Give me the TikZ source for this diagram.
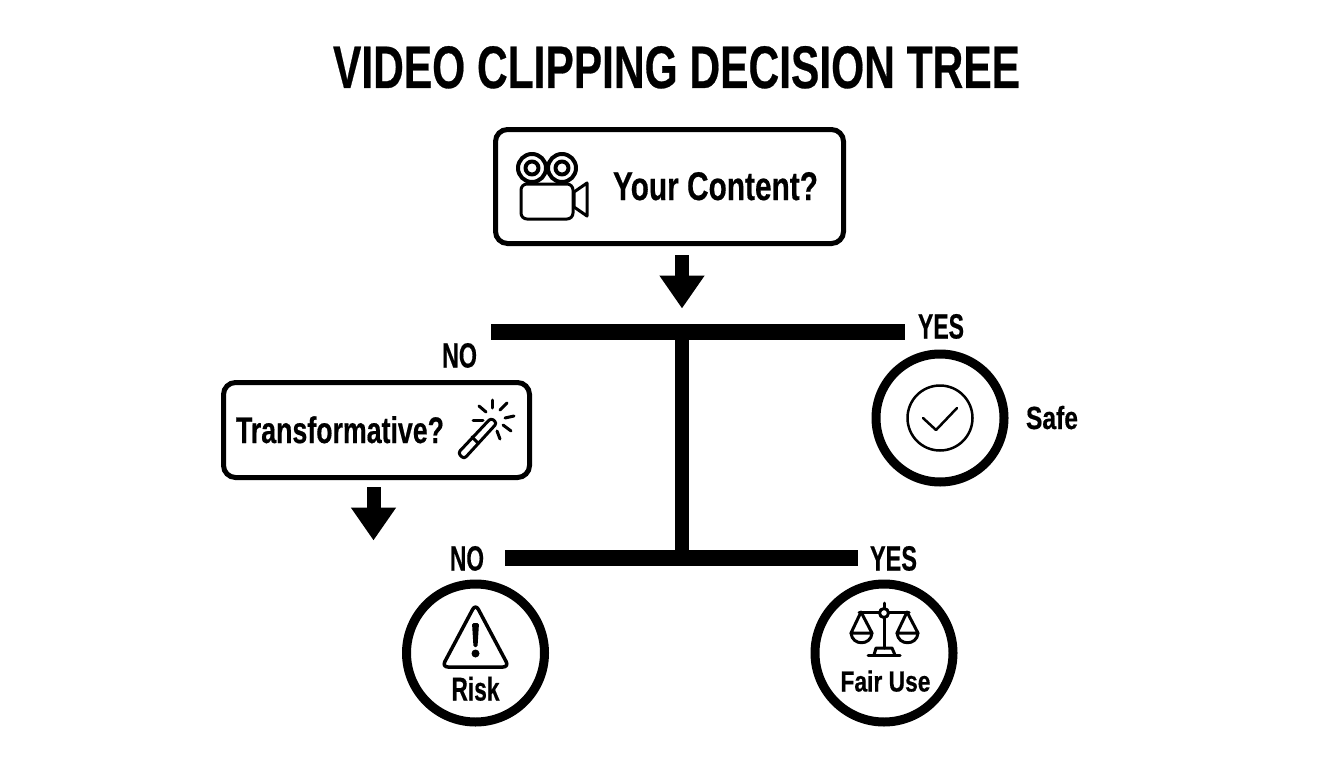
\documentclass[tikz,border=0pt]{standalone}
\usepackage{fontspec}
\usepackage{graphicx}
\setmainfont{Liberation Sans}
\newfontfamily\heavy[UprightFont=* Bold,FakeBold=0.5]{Liberation Sans}
\usetikzlibrary{arrows.meta}
\newcommand{\fitlabel}[3]{\resizebox{#1pt}{\height}{\fontsize{#2pt}{#2pt}\selectfont\heavy #3}}
\tikzset{
  qbox/.style={draw=black,line width=5pt,rounded corners=12pt,fill=white,inner sep=0pt,outer sep=0pt},
  ring/.style={circle,draw=black,line width=9pt,fill=white,inner sep=0pt,outer sep=0pt},
  lbl/.style={inner sep=0pt,outer sep=0pt,anchor=base,text=black},
  bar/.style={draw=black,line width=16pt},
  stem/.style={draw=black,line width=14pt},
  downarrow/.style={draw=black,line width=14pt,-{Triangle[length=33pt,width=43pt]}},
  icon/.style={draw=black,line width=3pt,line join=round,line cap=round},
  boldicon/.style={draw=black,line width=4pt,line join=round,line cap=round},
  thinicon/.style={draw=black,line width=2.5pt,line join=round,line cap=round}
}
\begin{document}
\begin{tikzpicture}[x=1pt,y=-1pt]
\useasboundingbox (0,0) rectangle (1344,768);
\fill[white] (0,0) rectangle (1344,768);
% title
\node[lbl] (title) at (676.5,88) {\fitlabel{687}{60}{VIDEO CLIPPING DECISION TREE}};
% boxes
\node[qbox,minimum width=348pt,minimum height=114pt] (content) at (669.5,186.5) {};
\node[qbox,minimum width=306pt,minimum height=95pt] (transf) at (376.5,430) {};
\node[lbl] (contentlbl) at (715.5,200) {\fitlabel{205}{40}{Your Content?}};
\node[lbl] (transflbl) at (340,443) {\fitlabel{208}{37}{Transformative?}};
% bars
\coordinate (t1) at (491,332); \coordinate (t2) at (905,332); \coordinate (tj) at (682,332);
\coordinate (b1) at (505,557.5); \coordinate (b2) at (858,557.5); \coordinate (bj) at (682,557.5);
\draw[bar] (t1) -- (t2);
\draw[bar] (b1) -- (b2);
\draw[stem] (tj) -- (bj);
% arrows
\coordinate (a1s) at (682,255); \coordinate (a1e) at (682,308.5);
\coordinate (a2s) at (373.5,487); \coordinate (a2e) at (373.5,540.5);
\draw[downarrow] (a1s) -- (a1e);
\draw[downarrow] (a2s) -- (a2e);
% branch labels
\node[lbl] (no1) at (459.5,367.5) {\fitlabel{35}{35}{NO}};
\node[lbl] (yes1) at (941,338.5) {\fitlabel{46}{35}{YES}};
\node[lbl] (no2) at (467,570.5) {\fitlabel{34}{35}{NO}};
\node[lbl] (yes2) at (893.5,570.5) {\fitlabel{47}{35}{YES}};
% outcome circles
\node[ring,minimum size=128pt] (safe) at (940,418) {};
\node[ring,minimum size=138pt] (risk) at (475.5,653) {};
\node[ring,minimum size=138pt] (fair) at (884,653) {};
\node[lbl] (safelbl) at (1052,429) {\fitlabel{52}{32}{Safe}};
\node[lbl] (risklbl) at (475.5,700.5) {\fitlabel{48}{33}{Risk}};
\node[lbl] (fairlbl) at (885.5,691.5) {\fitlabel{90}{29}{Fair Use}};
% safe icon
\draw[thinicon] (safe.center) circle (32.5pt);
\draw[thinicon] (923,418) -- (936,430) -- (957,408);
% camera icon
\draw[boldicon] (532,168) circle (14pt);
\draw[boldicon] (532,168) circle (6.5pt);
\draw[boldicon] (562,168) circle (14pt);
\draw[boldicon] (562,168) circle (6.5pt);
\draw[icon,rounded corners=6pt,fill=white] (521,184) rectangle (573,219);
\draw[icon] (574,192) -- (587,183) -- (587,216) -- (574,207) -- cycle;
% wand icon
\draw[icon,rounded corners=3pt] (458,453) -- (491,418) -- (497,423) -- (464,459) -- cycle;
\draw[icon] (472,437) -- (478,443);
\draw[icon] (492,400) -- (492,408);
\draw[icon] (500,410) -- (507,403);
\draw[icon] (505,418) -- (514,416);
\draw[icon] (503,425) -- (511,431);
\draw[icon] (497,431) -- (500,439);
\draw[icon] (473,420) -- (483,420);
\draw[icon] (479,406) -- (486,412);
% warning icon
\draw[draw=black,line width=3.5pt,line join=round,rounded corners=6pt] (475.5,604) -- (509,667) -- (442,667) -- cycle;
\fill[black,rounded corners=1.5pt] (472,623) -- (479,623) -- (477.5,647) -- (473.5,647) -- cycle;
\fill[black] (475.5,653.5) circle (4pt);
% scales icon
\draw[icon] (884,603) -- (884,608);
\draw[icon] (884,613) circle (4.5pt);
\draw[icon] (859,612) -- (879,612);
\draw[icon] (889,612) -- (909,612);
\draw[icon] (884,618) -- (884,648);
\draw[icon] (868,655) -- (900,655);
\draw[icon] (874,655) -- (876,648) -- (892,648) -- (895,655);
\draw[icon] (861,612) -- (851,633) -- (872,633) -- cycle;
\draw[icon] (851,633) .. controls (852,646) and (871,646) .. (872,633);
\draw[icon] (907,612) -- (897,633) -- (918,633) -- cycle;
\draw[icon] (897,633) .. controls (898,646) and (917,646) .. (918,633);
\end{tikzpicture}
\end{document}
